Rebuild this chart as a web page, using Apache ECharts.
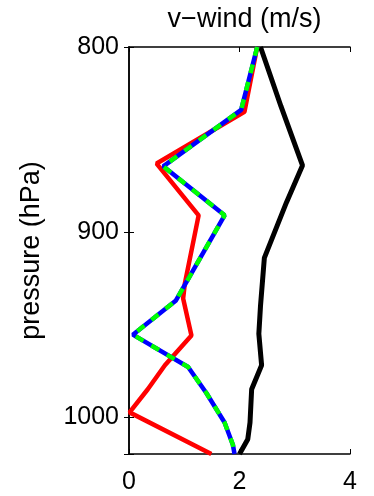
<!DOCTYPE html>
<html>
<head>
<meta charset="utf-8">
<script src="https://cdn.jsdelivr.net/npm/echarts@6/dist/echarts.min.js"></script>
<style>
html,body{margin:0;padding:0;background:#fff;}
#c{width:374px;height:496px;}
</style>
</head>
<body>
<div id="c"></div>
<script>
// v-wind (m/s) profiles vs pressure (hPa)
const blackP = [800, 832, 864, 884, 914, 940, 955, 972, 985, 1003, 1012, 1020];
const blackV = [2.38, 2.75, 3.14, 2.85, 2.45, 2.38, 2.35, 2.40, 2.22, 2.19, 2.15, 2.00];

const dashedP = [800, 834, 864.5, 891, 937, 955.5, 973, 987, 1003, 1015, 1020];
const dashedV = [2.32, 2.03, 0.62, 1.73, 0.85, 0.07, 1.07, 1.40, 1.73, 1.88, 1.91];

const redP = [800, 835, 863, 891, 928, 936, 956, 972, 985, 997.5, 1020];
const redV = [2.32, 2.09, 0.50, 1.26, 1.01, 0.98, 1.13, 0.65, 0.34, 0.01, 1.49];

const xTicks = [0, 2, 4];
const yTicks = [800, 900, 1000];

const pairs = (v, p) => v.map((x, i) => [x, p[i]]);
const FONT = '"Liberation Sans", Arial, sans-serif';

const chart = echarts.init(document.getElementById('c'), null, {renderer: 'canvas'});
const axisLine = {show: true, lineStyle: {color: '#000', width: 1.5}};
const tick = {show: true, inside: true, length: 5, lineStyle: {color: '#000', width: 1}};

chart.setOption({
  animation: false,
  backgroundColor: '#fff',
  title: {
    text: 'v\u2212wind (m/s)',
    left: 239.5, top: 1, textAlign: 'center',
    textStyle: {fontFamily: FONT, fontSize: 27, fontWeight: 'normal', color: '#000'}
  },
  grid: {left: 129, right: 24, top: 47, bottom: 42, containLabel: false},
  xAxis: [
    {type: 'value', position: 'bottom', min: 0, max: 4, interval: 2,
     axisLine, axisTick: tick, splitLine: {show: false},
     axisLabel: {fontFamily: FONT, fontSize: 25, color: '#000', margin: 16,
                 formatter: v => xTicks.includes(v) ? String(v) : ''}},
    {type: 'value', position: 'top', min: 0, max: 4, interval: 2,
     axisLine, axisTick: tick, splitLine: {show: false}, axisLabel: {show: false}}
  ],
  yAxis: [
    {type: 'value', position: 'left', inverse: true, min: 800, max: 1020, interval: 100,
     axisLine, axisTick: tick, splitLine: {show: false},
     name: 'pressure (hPa)', nameLocation: 'middle', nameGap: 84, nameRotate: 90,
     nameTextStyle: {fontFamily: FONT, fontSize: 27, color: '#000'},
     axisLabel: {fontFamily: FONT, fontSize: 25, color: '#000', margin: 10,
                 formatter: v => yTicks.includes(v) ? String(v) : ''}},
    {type: 'value', position: 'right', inverse: true, min: 800, max: 1020, interval: 100,
     axisLine, axisTick: tick, splitLine: {show: false}, axisLabel: {show: false}}
  ],
  series: [
    {type: 'line', name: 'black', data: pairs(blackV, blackP), showSymbol: false,
     lineStyle: {color: '#000', width: 5}, z: 2},
    {type: 'line', name: 'red', data: pairs(redV, redP), showSymbol: false,
     lineStyle: {color: '#ff0000', width: 4.5}, z: 3},
    {type: 'line', name: 'blue', data: pairs(dashedV, dashedP), showSymbol: false,
     lineStyle: {color: '#0000ff', width: 4.5}, z: 4},
    {type: 'line', name: 'green', data: pairs(dashedV, dashedP), showSymbol: false,
     lineStyle: {color: '#00ff00', width: 4.5, type: [9, 9]}, z: 5}
  ]
});
</script>
</body>
</html>
